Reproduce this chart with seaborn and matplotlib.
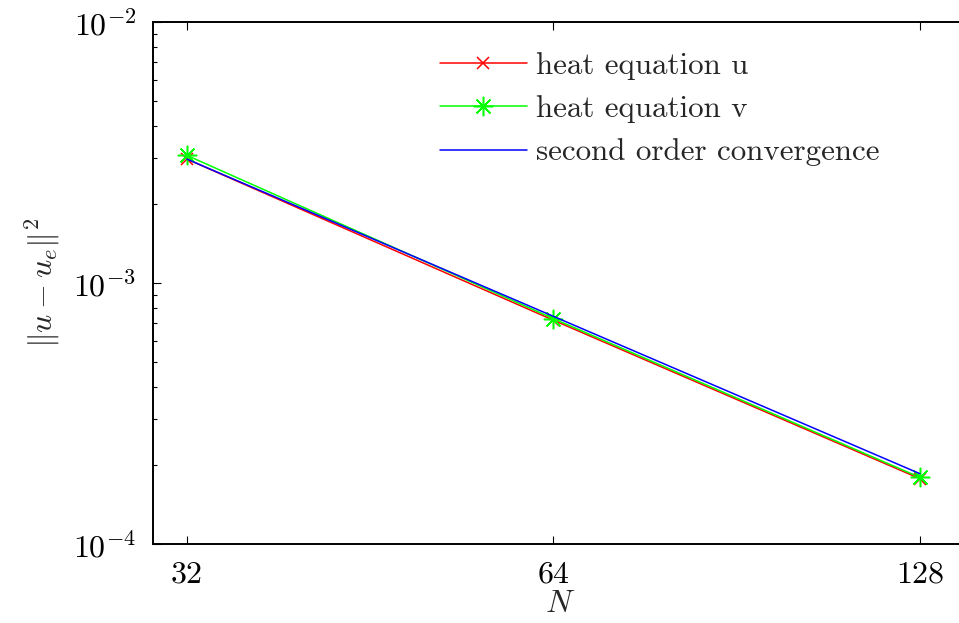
import numpy as np
import pandas as pd
import matplotlib
matplotlib.use("Agg")
import matplotlib.pyplot as plt
import seaborn as sns

# Grid sizes and measured errors
N = [32, 64, 128]
err_u = [2.98e-3, 7.20e-4, 1.78e-4]
err_v = [3.08e-3, 7.30e-4, 1.80e-4]
ref_second_order = [2.98e-3, 7.45e-4, 1.86e-4]

x_tick_labels = ["32", "64", "128"]
series_labels = ["heat equation u", "heat equation v", "second order convergence"]

sns.set_style("ticks")
plt.rcParams.update({
    "font.family": "serif",
    "font.serif": ["cmr10", "DejaVu Serif"],
    "mathtext.fontset": "cm",
    "axes.unicode_minus": False,
    "axes.formatter.use_mathtext": True,
    "font.size": 23,
})

fig = plt.figure(figsize=(9.59, 6.23), dpi=100)
ax = fig.add_axes([0.1595, 0.1268, 0.849, 0.838])

df = pd.DataFrame({"N": N, "u": err_u, "v": err_v, "ref": ref_second_order})

red, green, blue = (1, 0, 0), (0, 1, 0), (0, 0, 1)
sns.lineplot(data=df, x="N", y="u", ax=ax, color=red, marker="x",
             markersize=8, markeredgewidth=1.1, markeredgecolor=red,
             linewidth=1.1, label=series_labels[0])
sns.lineplot(data=df, x="N", y="v", ax=ax, color=green, marker=(8, 2, 0),
             markersize=14, markeredgewidth=1.1, markeredgecolor=green,
             linewidth=1.1, label=series_labels[1])
sns.lineplot(data=df, x="N", y="ref", ax=ax, color=blue, linewidth=1.1,
             label=series_labels[2])

ax.set_xscale("log")
ax.set_yscale("log")
ax.set_xlim(30, 140)
ax.set_ylim(1e-4, 1e-2)
ax.set_xticks(N)
ax.set_xticklabels(x_tick_labels)
ax.xaxis.set_minor_locator(matplotlib.ticker.NullLocator())
ax.set_yticks([1e-4, 1e-3, 1e-2])

ax.tick_params(which="both", direction="in", top=True, right=True,
               width=0.8, colors="black", labelsize=23, pad=12)
ax.tick_params(which="major", length=6)
ax.tick_params(which="minor", length=3)

for s in ax.spines.values():
    s.set_linewidth(1.4)
    s.set_color("black")

ax.set_xlabel("$N$", fontsize=23, labelpad=2)
ax.set_ylabel(r"$\|u-u_e\|^2$", fontsize=23, labelpad=8)

leg = ax.legend(loc="upper left", bbox_to_anchor=(0.4425, 0.942),
                bbox_transform=fig.transFigure, frameon=False,
                fontsize=22.3, handlelength=2.8, handletextpad=0.32,
                labelspacing=0.5, borderpad=0, numpoints=1)

fig.savefig("out.png", dpi=100)
